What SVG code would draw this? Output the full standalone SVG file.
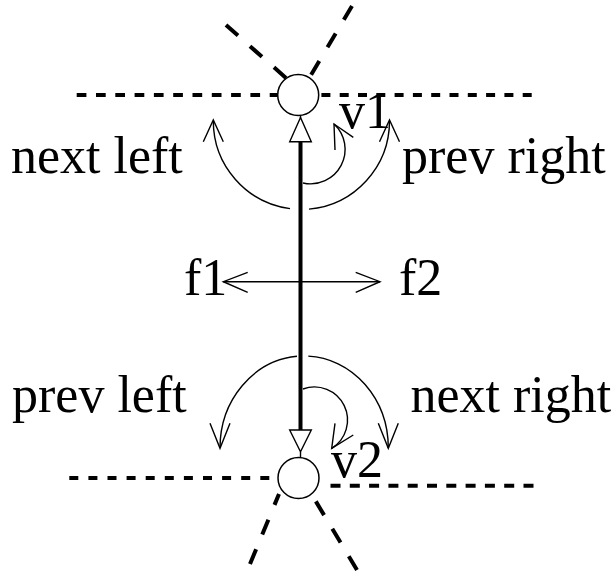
<svg xmlns="http://www.w3.org/2000/svg" width="616" height="573" viewBox="0 0 616 573">
<style>
.bg{fill:#ffffff}
.dash{fill:none;stroke:#000;stroke-width:4;stroke-linecap:butt}
.thin{fill:none;stroke:#000;stroke-width:1.4}
.thick{fill:none;stroke:#000;stroke-width:4}
.node{fill:#fff;stroke:#000;stroke-width:1.5}
.tri{fill:#fff;stroke:#000;stroke-width:1.4;stroke-linejoin:miter}
.lbl{font-family:"Liberation Serif","Times New Roman",serif;font-size:52px;fill:#000}
</style>
<rect class="bg" x="0" y="0" width="616" height="573"/>
<g id="connectors">
  <path class="dash" d="M76.7,95 H277.5" stroke-dasharray="9.7 9.6"/>
  <path class="dash" d="M531.7,95 H319" stroke-dasharray="9 9.3"/>
  <path class="dash" d="M226,25 L286,78" stroke-dasharray="16 16"/>
  <path class="dash" d="M352,6 L311,75" stroke-dasharray="16 16"/>
  <path class="dash" d="M69.3,478 H278" stroke-dasharray="9 10.1"/>
  <path class="dash" d="M533.5,485.7 H329" stroke-dasharray="10 9.3"/>
  <path class="dash" d="M250,564 L279,494" stroke-dasharray="16 16"/>
  <path class="dash" d="M357,570 L315,500" stroke-dasharray="16 16"/>
  <path class="thick" d="M300.5,141.7 V430"/>
  <path class="thin" d="M300.5,115.5 V118" stroke-width="3"/>
  <path class="thin" d="M300.5,451.7 V457.5" stroke-width="3"/>
  <polygon class="tri" points="300.5,117.5 289.7,141.7 311.3,141.7"/>
  <polygon class="tri" points="300.5,451.7 289.7,430 311.3,430"/>
  <path class="thin" d="M223.3,281.7 H380"/>
  <polyline class="thin" points="247.7,272.3 223.3,281.7 247.7,292.3"/>
  <polyline class="thin" points="355.7,272.3 380,281.7 355.7,292.3"/>
  <path class="thin" d="M290,208.6 A88.5,88.5 0 0 1 213.3,121"/>
  <polyline class="thin" points="203.3,141.7 213.3,120 223.3,141.7"/>
  <path class="thin" d="M309,209.1 A88.5,88.5 0 0 0 389.5,121"/>
  <polyline class="thin" points="379.5,141.7 389.5,120 399.5,141.7"/>
  <path class="thin" d="M303,183 A34.5,34.5 0 0 0 334,124"/>
  <polyline class="thin" points="335,150 334,124 353.3,137.3"/>
  <path class="thin" d="M297,356.3 A84,92 0 0 0 220,448"/>
  <polyline class="thin" points="210,423.3 220,448.3 230,423.3"/>
  <path class="thin" d="M308.3,356.1 A84,92 0 0 1 388.3,448"/>
  <polyline class="thin" points="378.3,423.3 388.3,448.3 398.3,423.3"/>
  <path class="thin" d="M303,389 A33.1,33.1 0 0 1 331.7,448.3"/>
  <polyline class="thin" points="335,423.3 331.7,448.3 353.3,435"/>
</g>
<g id="v1">
  <circle class="node" cx="298.2" cy="95" r="20.5"/>
  <text class="lbl" x="339" y="128">v1</text>
</g>
<g id="v2">
  <circle class="node" cx="298.5" cy="478" r="20.5"/>
  <text class="lbl" x="331" y="476.7">v2</text>
</g>
<g id="labels">
  <text class="lbl" x="11" y="173.3">next left</text>
  <text class="lbl" x="402" y="173.3">prev right</text>
  <text class="lbl" x="12" y="411.7">prev left</text>
  <text class="lbl" x="410.5" y="411.7">next right</text>
  <text class="lbl" x="184" y="295">f1</text>
  <text class="lbl" x="399" y="295">f2</text>
</g>
</svg>
